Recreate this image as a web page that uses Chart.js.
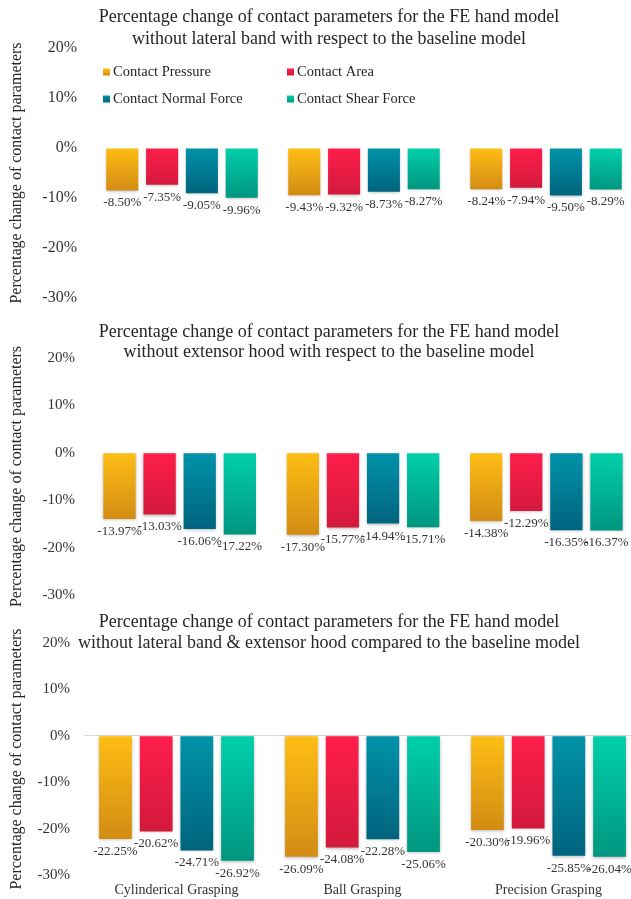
<!DOCTYPE html>
<html>
<head>
<meta charset="utf-8">
<title>Percentage change of contact parameters</title>
<script src="https://cdn.jsdelivr.net/npm/chart.js@4/dist/chart.umd.min.js"></script>
<style>
  html, body { margin: 0; padding: 0; background: #ffffff; overflow: hidden; width: 631px; height: 899px; }
  .panel { position: absolute; left: 0; width: 658px; }
  canvas { display: block; }
</style>
</head>
<body>
<div class="panel" style="top:0px;height:310px"><canvas id="chartLateral" width="658" height="310"></canvas></div>
<div class="panel" style="top:310px;height:300px"><canvas id="chartHood" width="658" height="300"></canvas></div>
<div class="panel" style="top:610px;height:289px"><canvas id="chartBoth" width="658" height="289"></canvas></div>

<script>
// Grasp types (categories) and contact parameters (series)
const categories = ['Cylinderical Grasping', 'Ball Grasping', 'Precision Grasping'];
const seriesNames = ['Contact Pressure', 'Contact Area', 'Contact Normal Force', 'Contact Shear Force'];

// Without lateral band (%)
const lateralPressure = [-8.50, -9.43, -8.24];
const lateralArea     = [-7.35, -9.32, -7.94];
const lateralNormal   = [-9.05, -8.73, -9.50];
const lateralShear    = [-9.96, -8.27, -8.29];

// Without extensor hood (%)
const hoodPressure = [-13.97, -17.30, -14.38];
const hoodArea     = [-13.03, -15.77, -12.29];
const hoodNormal   = [-16.06, -14.94, -16.35];
const hoodShear    = [-17.22, -15.71, -16.37];

// Without lateral band & extensor hood (%)
const bothPressure = [-22.25, -26.09, -20.30];
const bothArea     = [-20.62, -24.08, -19.96];
const bothNormal   = [-24.71, -22.28, -25.85];
const bothShear    = [-26.92, -25.06, -26.04];

// Y axis range and tick step (%)
const yMin = -30, yMax = 20, yStep = 10;

const titleLateral = ['Percentage change of contact parameters for the FE hand model',
                      'without lateral band with respect to the baseline model'];
const titleHood    = ['Percentage change of contact parameters for the FE hand model',
                      'without extensor hood with respect to the baseline model'];
const titleBoth    = ['Percentage change of contact parameters for the FE hand model',
                      'without lateral band & extensor hood compared to the baseline model'];
const yAxisTitle = 'Percentage change of contact parameters';

const SERIF = "'Liberation Serif', 'Times New Roman', serif";
const TEXT = '#262626';
const CLEAR = 'rgba(0,0,0,0)';

// top / bottom colours of each series' vertical gradient
const seriesGradients = [
  ['#FEBE14', '#D28C14'],
  ['#FF1E4B', '#D2193C'],
  ['#0093AA', '#00647D'],
  ['#00D0AA', '#009680']
];

function barFill(i) {
  return (ctx) => {
    const chart = ctx.chart;
    const y = chart.scales && chart.scales.y;
    if (!y || ctx.type !== 'data' || !ctx.parsed) return seriesGradients[i][0];
    const y0 = y.getPixelForValue(0);
    const y1 = y.getPixelForValue(ctx.parsed.y);
    if (!isFinite(y0) || !isFinite(y1) || y0 === y1) return seriesGradients[i][0];
    const g = chart.ctx.createLinearGradient(0, y0, 0, y1);
    g.addColorStop(0, seriesGradients[i][0]);
    g.addColorStop(1, seriesGradients[i][1]);
    return g;
  };
}

// Two-line heading drawn at a fixed spot (it may overlap the plot area)
const panelTitle = {
  id: 'panelTitle',
  afterDraw(chart, args, opts) {
    if (!opts.lines) return;
    const c = chart.ctx;
    c.save();
    c.font = opts.size + 'px ' + SERIF;
    c.fillStyle = TEXT;
    c.textAlign = 'center';
    c.textBaseline = 'middle';
    for (let i = 0; i < opts.lines.length; i++) {
      c.fillText(opts.lines[i], opts.x, opts.y + i * opts.lineHeight);
    }
    c.restore();
  }
};

// 2 x 2 legend laid over the upper part of the plot
const gridLegend = {
  id: 'gridLegend',
  afterDraw(chart, args, opts) {
    if (!opts.show) return;
    const c = chart.ctx;
    c.save();
    c.font = opts.size + 'px ' + SERIF;
    c.textBaseline = 'middle';
    c.textAlign = 'left';
    chart.data.datasets.forEach((ds, i) => {
      const x = opts.cols[i % 2];
      const y = opts.rows[Math.floor(i / 2)];
      const b = opts.box;
      const g = c.createLinearGradient(0, y - b / 2, 0, y + b / 2);
      g.addColorStop(0, seriesGradients[i][0]);
      g.addColorStop(1, seriesGradients[i][1]);
      c.fillStyle = g;
      c.fillRect(x, y - b / 2, b, b);
      c.fillStyle = TEXT;
      c.fillText(ds.label, x + b + 3, y + 0.5);
    });
    c.restore();
  }
};

// soft drop shadow on the bars, then value labels under each bar
const barDecor = {
  id: 'barDecor',
  beforeDatasetsDraw(chart) {
    const c = chart.ctx;
    c.save();
    c.shadowColor = 'rgba(0,0,0,0.28)';
    c.shadowBlur = 3;
    c.shadowOffsetX = 0;
    c.shadowOffsetY = 1;
  },
  afterDatasetsDraw(chart, args, opts) {
    const c = chart.ctx;
    c.restore();
    c.save();
    c.font = opts.size + 'px ' + SERIF;
    c.fillStyle = '#333333';
    c.textAlign = 'center';
    c.textBaseline = 'middle';
    chart.data.datasets.forEach((ds, di) => {
      const meta = chart.getDatasetMeta(di);
      meta.data.forEach((bar, i) => {
        const v = ds.data[i];
        c.fillText(v.toFixed(2) + '%', bar.x, bar.y + opts.offset);
      });
    });
    c.restore();
  }
};

function makeDatasets(p, a, n, s) {
  return [p, a, n, s].map((vals, i) => ({
    label: seriesNames[i],
    data: vals,
    backgroundColor: barFill(i),
    borderWidth: 0,
    categoryPercentage: 0.875,
    barPercentage: 0.805
  }));
}

function makeChart(id, datasets, cfg) {
  return new Chart(document.getElementById(id), {
    type: 'bar',
    data: { labels: categories, datasets: datasets },
    options: {
      responsive: false,
      animation: false,
      events: [],
      layout: { padding: { top: cfg.padTop, bottom: 0, left: 0, right: cfg.padRight } },
      scales: {
        x: {
          display: true,
          grid: { display: false, drawTicks: false },
          border: { display: false },
          ticks: { display: cfg.showX, font: { family: SERIF, size: 14 }, color: '#333333', padding: 7, maxRotation: 0 },
          afterFit: (s) => { s.height = cfg.bottomGap; }
        },
        y: {
          min: yMin, max: yMax,
          grid: {
            display: true,
            drawTicks: true,
            tickLength: cfg.tickGap,
            tickColor: CLEAR,
            color: (ctx) => (cfg.zeroLine && ctx.tick && ctx.tick.value === 0) ? '#D9D9D9' : CLEAR,
            lineWidth: 1
          },
          border: { display: false },
          ticks: {
            stepSize: yStep,
            font: { family: SERIF, size: cfg.tickSize },
            color: '#333333',
            padding: 0,
            callback: (v) => v + '%'
          },
          title: {
            display: true,
            text: yAxisTitle,
            font: { family: SERIF, size: 16 },
            color: TEXT,
            padding: { top: 7, bottom: 0 }
          },
          afterFit: (s) => { s.width = cfg.axisWidth; }
        }
      },
      plugins: {
        legend: { display: false },
        tooltip: { enabled: false },
        title: { display: false },
        panelTitle: { lines: cfg.title, x: 329, y: cfg.titleY, lineHeight: cfg.titleGap, size: 18 },
        gridLegend: { show: cfg.legend, cols: [103, 287], rows: [72, 99], box: 7, size: 14.5 },
        barDecor: { size: 13, offset: 12.5 }
      }
    },
    plugins: [barDecor, panelTitle, gridLegend]
  });
}

makeChart('chartLateral',
  makeDatasets(lateralPressure, lateralArea, lateralNormal, lateralShear),
  { padTop: 48, bottomGap: 12, padRight: 21, axisWidth: 91, tickGap: 14, tickSize: 16,
    showX: false, zeroLine: false, legend: true, title: titleLateral, titleY: 17, titleGap: 22 });

makeChart('chartHood',
  makeDatasets(hoodPressure, hoodArea, hoodNormal, hoodShear),
  { padTop: 48, bottomGap: 15, padRight: 20, axisWidth: 88, tickGap: 13, tickSize: 15,
    showX: false, zeroLine: false, legend: false, title: titleHood, titleY: 22, titleGap: 20 });

makeChart('chartBoth',
  makeDatasets(bothPressure, bothArea, bothNormal, bothShear),
  { padTop: 33, bottomGap: 24, padRight: 16.5, axisWidth: 83.5, tickGap: 13.5, tickSize: 15,
    showX: true, zeroLine: true, legend: false, title: titleBoth, titleY: 12, titleGap: 21 });
</script>
</body>
</html>
